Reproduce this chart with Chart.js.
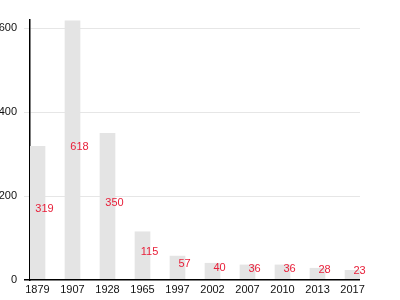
<!DOCTYPE html>
<html>
<head>
<meta charset="utf-8">
<script src="https://cdn.jsdelivr.net/npm/chart.js@4/dist/chart.umd.min.js"></script>
<style>
  html, body { margin: 0; padding: 0; background: #fff; }
  #wrap { width: 400px; height: 300px; }
</style>
</head>
<body>
<div id="wrap"><canvas id="popChart"></canvas></div>
<script>
const years = ['1879', '1907', '1928', '1965', '1997', '2002', '2007', '2010', '2013', '2017']
const population = [319, 618, 350, 115, 57, 40, 36, 36, 28, 23]
const yTicks = [0, 200, 400, 600]

const ctx = document.getElementById('popChart').getContext('2d')

// red numbers in the middle of each bar + black zero line on top
const valueLabels = {
  id: 'valueLabels',
  afterDatasetsDraw(chart) {
    const meta = chart.getDatasetMeta(0)
    const area = chart.chartArea
    const c = chart.ctx
    c.save()
    const y0 = Math.round(chart.scales.y.getPixelForValue(0)) - 0.25
    c.strokeStyle = '#000'
    c.lineWidth = 1.5
    c.beginPath()
    c.moveTo(area.left - 6, y0)
    c.lineTo(area.right, y0)
    c.stroke()

    c.font = '11px "Liberation Sans", Arial, sans-serif'
    c.fillStyle = '#e8203a'
    c.textAlign = 'center'
    c.textBaseline = 'middle'
    meta.data.forEach((bar, i) => {
      const mid = (bar.y + bar.base) / 2
      c.fillText(String(population[i]), bar.x + 7, mid - 3.5)
    })
    c.restore()
  }
}

const points = population.map((v, i) => ({ x: i, y: v }))

new Chart(ctx, {
  type: 'bar',
  data: {
    labels: years,
    datasets: [{
      data: points,
      backgroundColor: '#e4e4e4',
      barThickness: 15
    }]
  },
  options: {
    responsive: true,
    maintainAspectRatio: false,
    animation: false,
    layout: { padding: { top: 20, right: 40, bottom: 0, left: 0 } },
    plugins: {
      legend: { display: false },
      tooltip: { enabled: false }
    },
    scales: {
      x: {
        type: 'linear',
        offset: false,
        min: -0.214,
        max: 9.214,
        grid: { display: false, drawTicks: false, tickLength: 0 },
        border: { display: false },
        afterBuildTicks: (axis) => {
          axis.ticks = years.map((y, i) => ({ value: i }))
        },
        afterFit: (axis) => { axis.height = 20 },
        ticks: {
          autoSkip: false,
          maxRotation: 0,
          padding: 3,
          color: '#111',
          font: { family: '"Liberation Sans", Arial, sans-serif', size: 11 },
          callback: (v) => years[v]
        }
      },
      y: {
        min: 0,
        max: 620,
        afterBuildTicks: (axis) => {
          axis.ticks = yTicks.map((v) => ({ value: v }))
        },
        afterFit: (axis) => { axis.width = 30 },
        grid: {
          color: (c) => (c.tick && c.tick.value === 0 ? 'rgba(0,0,0,0)' : '#e6e6e6'),
          tickLength: 6
        },
        border: { display: true, color: '#000', width: 1.5 },
        ticks: {
          padding: 7,
          color: '#111',
          font: { family: '"Liberation Sans", Arial, sans-serif', size: 11 }
        }
      }
    }
  },
  plugins: [valueLabels]
})
</script>
</body>
</html>
